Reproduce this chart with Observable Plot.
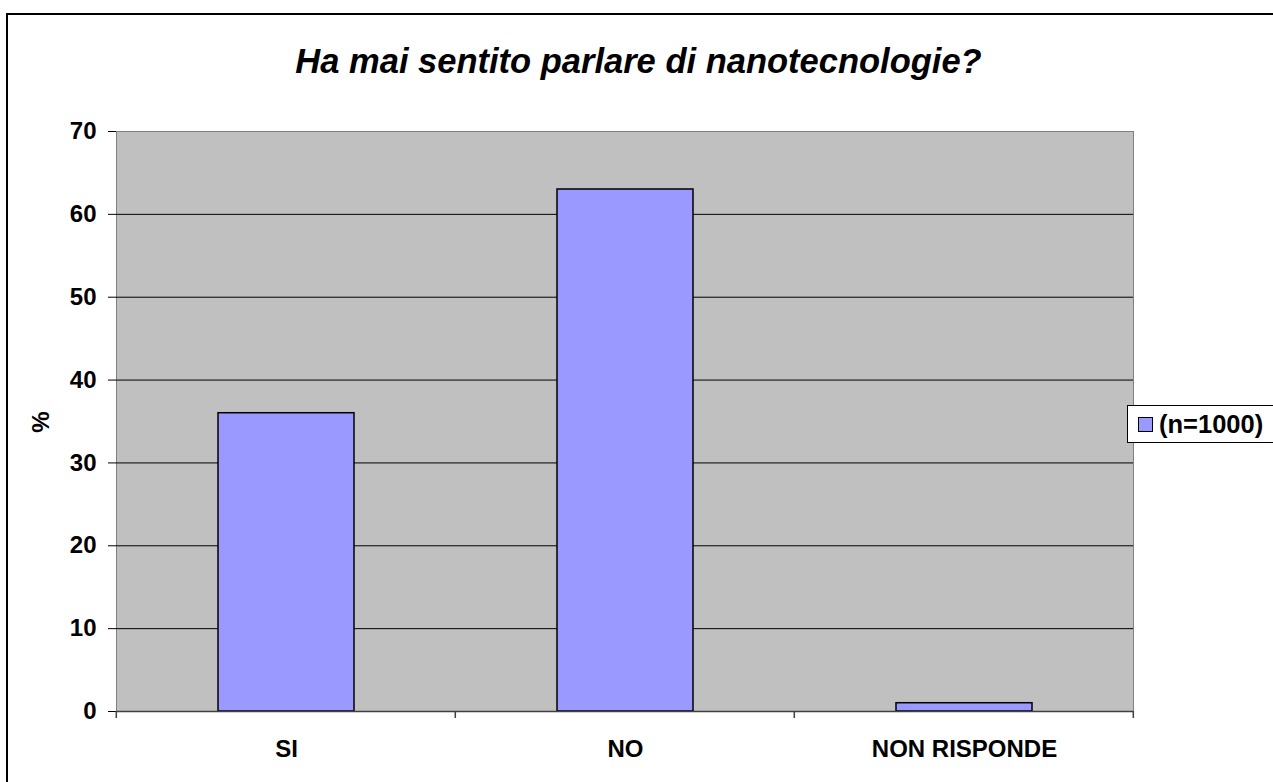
<!DOCTYPE html>
<html>
<head>
<meta charset="utf-8">
<script src="https://cdn.jsdelivr.net/npm/d3@7"></script>
<script src="https://cdn.jsdelivr.net/npm/@observablehq/plot@0.6"></script>
<style>
  html, body { margin: 0; padding: 0; background: #fff; }
  body { width: 1273px; height: 782px; position: relative; overflow: hidden; font-family: "Liberation Sans", Arial, sans-serif; }
  #frame { position: absolute; left: 6px; top: 13px; width: 1300px; height: 800px; border: 2px solid #000; box-sizing: border-box; }
  #title { position: absolute; left: 0; top: 44px; width: 1277px; text-align: center; font-size: 34.5px; line-height: 34px; font-weight: bold; font-style: italic; color: #000; }
  #ylabel { position: absolute; left: 41px; top: 422px; transform: translate(-50%, -50%) rotate(-90deg); font-size: 24px; font-weight: bold; line-height: 24px; }
  #legend { position: absolute; left: 1127px; top: 405px; width: 200px; height: 38px; border: 1px solid #000; box-sizing: border-box; background: #fff; display: flex; align-items: center; }
  #legend .sw { width: 15px; height: 15px; background: #9999ff; border: 1px solid #000; margin-left: 10px; margin-right: 6px; box-sizing: border-box; }
  #legend .lt { font-size: 25.5px; font-weight: bold; line-height: 26px; }
  #chart { position: absolute; left: 0; top: 0; }
</style>
</head>
<body>
<div id="frame"></div>
<div id="chart"></div>
<div id="title"></div>
<div id="ylabel"></div>
<div id="legend"><div class="sw"></div><div class="lt"></div></div>
<script>
const titleText = "Ha mai sentito parlare di nanotecnologie?";
const yLabel = "%";
const seriesName = "(n=1000)";
const categories = ["SI", "NO", "NON RISPONDE"];
const values = [36, 63, 1];
const yTicks = [0, 10, 20, 30, 40, 50, 60, 70];

document.getElementById("title").textContent = titleText;
document.getElementById("ylabel").textContent = yLabel;
document.querySelector("#legend .lt").textContent = seriesName;

const data = categories.map((c, i) => ({cat: c, value: values[i]}));

const plot = Plot.plot({
  width: 1273,
  height: 782,
  marginLeft: 116,
  marginRight: 140,
  marginTop: 131,
  marginBottom: 71,
  style: {fontFamily: "'Liberation Sans', Arial, sans-serif", fontSize: "24px", fontWeight: "bold", color: "#000", background: "transparent", overflow: "visible"},
  x: {type: "band", domain: categories, paddingInner: 0.6, paddingOuter: 0.3, label: null, tickSize: 0, tickPadding: 28},
  y: {domain: [0, 70], ticks: yTicks, label: null, tickSize: 8, tickPadding: 12},
  marks: [
    Plot.frame({fill: "#c0c0c0", stroke: "#808080"}),
    Plot.ruleY(yTicks.filter(v => v > 0 && v < 70), {stroke: "#000", strokeWidth: 1}),
    Plot.barY(data, {x: "cat", y: "value", fill: "#9999ff", stroke: "#000", strokeWidth: 1.5}),
    Plot.ruleY([0], {stroke: "#404040", strokeWidth: 1.5})
  ]
});
document.getElementById("chart").appendChild(plot);

// category boundary ticks (Excel-style), positioned through the x scale
const xs = plot.scale("x");
const ys = plot.scale("y");
const y0 = ys.apply(0);
const first = xs.apply(categories[0]) - xs.step * 0.3;
const bounds = d3.range(categories.length + 1).map(i => first + i * xs.step);
d3.select(plot).append("g")
  .attr("stroke", "#404040")
  .attr("stroke-width", 1.5)
  .selectAll("line").data(bounds).join("line")
  .attr("x1", d => d).attr("x2", d => d)
  .attr("y1", y0).attr("y2", y0 + 7);
</script>
</body>
</html>
